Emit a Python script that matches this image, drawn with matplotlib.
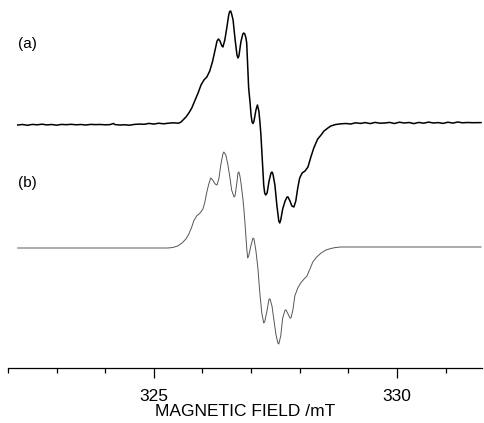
import matplotlib
matplotlib.use("Agg")
import matplotlib.pyplot as plt
from matplotlib.ticker import MultipleLocator

plt.rcParams['font.family'] = ['Liberation Sans', 'DejaVu Sans']

# (a) experimental spectrum: field (mT) and derivative intensity (arb. units)
field_a = [322.20, 322.30, 322.40, 322.50, 322.60, 322.70, 322.80, 322.90, 323.00, 323.10,
           323.20, 323.30, 323.40, 323.50, 323.60, 323.70, 323.80, 323.90, 324.00, 324.10,
           324.17, 324.20, 324.30, 324.40, 324.50, 324.60, 324.70, 324.80, 324.90, 325.00,
           325.10, 325.20, 325.30, 325.40,
           325.51, 325.56, 325.60, 325.66, 325.72, 325.78, 325.84, 325.91, 325.97, 326.03,
           326.09, 326.15, 326.21, 326.26, 326.30, 326.33, 326.36, 326.40, 326.42, 326.46,
           326.50, 326.54, 326.56, 326.58, 326.60, 326.63, 326.67, 326.71, 326.73, 326.75,
           326.79, 326.83, 326.85, 326.87, 326.89, 326.91, 326.93, 326.95, 326.98, 327.00,
           327.02, 327.04, 327.06, 327.10, 327.13, 327.16, 327.18, 327.20, 327.22, 327.24,
           327.26, 327.28, 327.30, 327.33, 327.37, 327.41, 327.43, 327.45, 327.49, 327.53,
           327.57, 327.59, 327.61, 327.65, 327.70, 327.74, 327.76, 327.80, 327.84, 327.88,
           327.92, 327.96, 328.00, 328.05, 328.11, 328.17, 328.23, 328.29, 328.37, 328.44,
           328.50, 328.58, 328.64, 328.74, 328.85,
           328.95, 329.05, 329.15, 329.25, 329.35, 329.45, 329.55, 329.65, 329.75, 329.85,
           329.95, 330.05, 330.15, 330.25, 330.35, 330.45, 330.55, 330.65, 330.75, 330.85,
           330.95, 331.05, 331.15, 331.25, 331.35, 331.45, 331.55, 331.65, 331.73]
signal_a = [0.0, 0.5, -0.3, 0.6, 0.2, 0.8, 0.1, 0.5, -0.2, 0.6,
            0.3, 0.7, 0.2, 0.5, 0.0, 0.6, 0.4, 0.5, 0.2, 0.4,
            1.5, 0.4, 0.0, 0.2, -0.2, 0.6, 0.9, 0.7, 1.6, 0.9,
            1.8, 1.2, 1.8, 2.2,
            1.8, 3.0, 5.0, 8.0, 12.0, 17.0, 24.0, 32.0, 40.0, 45.0,
            48.0, 54.0, 64.0, 75.0, 84.0, 86.0, 84.0, 79.0, 78.0, 85.0,
            97.0, 110.0, 113.5, 114.0, 111.0, 105.0, 86.0, 70.0, 67.0, 69.0,
            83.0, 91.0, 92.0, 91.0, 88.0, 82.0, 60.0, 37.0, 22.0, 10.0,
            3.0, 1.5, 4.0, 15.0, 20.0, 14.0, 4.0, -8.0, -25.0, -43.0,
            -60.0, -68.0, -70.0, -68.0, -56.0, -48.0, -47.0, -49.0, -60.0, -80.0,
            -96.0, -98.0, -95.0, -84.0, -76.0, -72.0, -72.0, -76.0, -81.0, -82.0,
            -76.0, -63.0, -53.0, -48.0, -46.0, -42.0, -32.0, -23.0, -14.0, -10.0,
            -6.0, -3.0, -1.0, 0.5, 1.2,
            1.5, 1.0, 2.2, 1.6, 2.4, 1.4, 2.6, 1.8, 2.0, 2.6,
            1.5, 2.8, 2.0, 2.5, 1.4, 2.6, 1.8, 2.9, 2.0, 2.4,
            1.6, 2.8, 1.9, 3.0, 2.2, 2.5, 2.3, 2.4, 2.4]

# (b) simulated spectrum
field_b = [322.20, 323.00, 324.00, 325.00, 325.14, 325.29, 325.39, 325.49, 325.58, 325.66,
           325.72, 325.78, 325.82, 325.88, 325.95, 326.01, 326.05, 326.09, 326.13, 326.17,
           326.21, 326.26, 326.30, 326.34, 326.38, 326.42, 326.44, 326.48, 326.52, 326.56,
           326.60, 326.65, 326.67, 326.71, 326.73, 326.75, 326.77, 326.79, 326.81, 326.83,
           326.85, 326.87, 326.89, 326.91, 326.93, 326.95, 327.00, 327.04, 327.06, 327.10,
           327.14, 327.18, 327.22, 327.26, 327.28, 327.33, 327.37, 327.39, 327.43, 327.47,
           327.51, 327.55, 327.57, 327.61, 327.65, 327.70, 327.72, 327.76, 327.80, 327.82,
           327.86, 327.90, 327.96, 328.02, 328.09, 328.15, 328.21, 328.27, 328.35, 328.44,
           328.54, 328.64, 328.74, 328.85, 329.00, 329.50, 330.00, 330.50, 331.00, 331.50,
           331.73]
signal_b = [0.0, 0.0, 0.0, 0.0, 0.0, 0.0, 0.5, 2.0, 5.0, 9.0,
            14.0, 21.0, 27.0, 32.0, 35.0, 39.0, 46.0, 56.0, 64.0, 70.0,
            68.0, 64.0, 63.0, 70.0, 84.0, 94.0, 96.0, 93.0, 84.0, 72.0,
            58.0, 51.0, 52.0, 66.0, 75.0, 76.0, 72.0, 66.0, 58.0, 50.0,
            40.0, 28.0, 14.0, 0.0, -10.0, -8.0, 3.0, 10.0, 9.0, -3.0,
            -20.0, -45.0, -65.0, -75.0, -74.0, -62.0, -51.0, -51.0, -58.0, -72.0,
            -86.0, -95.0, -96.0, -88.0, -70.0, -62.0, -62.0, -66.0, -70.0, -70.0,
            -62.0, -48.0, -40.0, -35.0, -31.0, -28.0, -21.0, -14.0, -9.0, -5.0,
            -2.0, -0.5, 0.5, 1.0, 1.0, 1.0, 1.0, 1.0, 1.0, 1.0,
            1.0]

offset_a = 243
offset_b = 120

fig = plt.figure(figsize=(4.85, 4.23), dpi=100)
ax = fig.add_axes([8 / 485, 55 / 423, 474 / 485, 368 / 423])

ax.plot(field_a, [s + offset_a for s in signal_a], color='black', lw=1.1)
ax.plot(field_b, [s + offset_b for s in signal_b], color='#555555', lw=0.7)

ax.text(322.2, 324, '(a)', fontsize=11, ha='left', va='center')
ax.text(322.2, 185, '(b)', fontsize=11, ha='left', va='center')

ax.set_xlim(322.0, 331.75)
ax.set_ylim(0, 368)
for side in ['left', 'right', 'top']:
    ax.spines[side].set_visible(False)
ax.spines['bottom'].set_linewidth(0.9)
ax.set_yticks([])
ax.xaxis.set_major_locator(MultipleLocator(5))
ax.xaxis.set_minor_locator(MultipleLocator(1))
ax.tick_params(axis='x', which='major', direction='out', length=7, width=0.9,
               labelsize=12.5, pad=8)
ax.tick_params(axis='x', which='minor', direction='out', length=3.5, width=0.9)
ax.set_xlabel('MAGNETIC FIELD /mT', fontsize=12.5, labelpad=0)

fig.savefig('out.png', dpi=100)
